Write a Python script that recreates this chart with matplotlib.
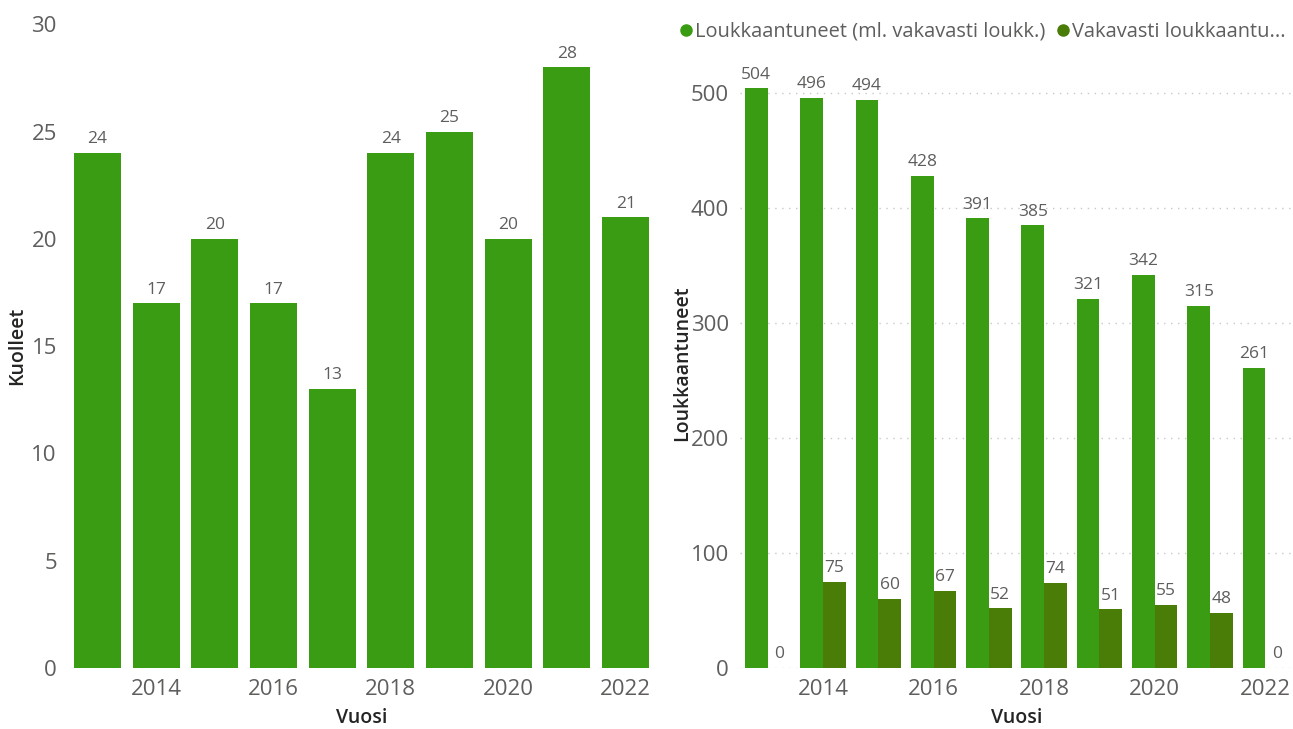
import matplotlib.pyplot as plt
from matplotlib.lines import Line2D
import numpy as np

# Data
vuodet = [2013, 2014, 2015, 2016, 2017, 2018, 2019, 2020, 2021, 2022]
kuolleet = [24, 17, 20, 17, 13, 24, 25, 20, 28, 21]
loukkaantuneet = [504, 496, 494, 428, 391, 385, 321, 342, 315, 261]
vakavasti = [0, 75, 60, 67, 52, 74, 51, 55, 48, 0]
tick_years = [2014, 2016, 2018, 2020, 2022]
legend_labels = ['Loukkaantuneet (ml. vakavasti loukk.)', 'Vakavasti loukkaantu...']

green = '#3A9C12'
dark_green = '#4A7C08'
tick_col = '#605E5C'
title_col = '#252423'

plt.rcParams['font.family'] = ['Open Sans', 'DejaVu Sans']

fig = plt.figure(figsize=(12.93, 7.29), dpi=100)

# Left chart: deaths
ax1 = fig.add_axes([0.0526, 0.0837, 0.454, 0.883])
bars = ax1.bar(vuodet, kuolleet, width=0.8, color=green)
for b, v in zip(bars, kuolleet):
    ax1.annotate(str(v), (b.get_x() + b.get_width() / 2, v), xytext=(0, 4),
                 textcoords='offset points', ha='center', va='bottom',
                 fontsize=12.5, color=tick_col)
ax1.set_xlim(2012.5, 2022.5)
ax1.set_ylim(0, 30)
ax1.set_yticks([0, 5, 10, 15, 20, 25, 30])
ax1.set_xticks(tick_years)
ax1.set_ylabel('Kuolleet', fontsize=14, fontweight='semibold', color=title_col)
ax1.yaxis.set_label_coords(-0.07, 0.5)
ax1.set_xlabel('Vuosi', fontsize=14, fontweight='semibold', color=title_col, labelpad=6)

# Right chart: injured
ax2 = fig.add_axes([0.5723, 0.0837, 0.4277, 0.836])
x = np.array(vuodet)
w = 0.41
b1 = ax2.bar(x - w / 2, loukkaantuneet, width=w, color=green)
b2 = ax2.bar(x + w / 2, vakavasti, width=w, color=dark_green)
for bs, vals in [(b1, loukkaantuneet), (b2, vakavasti)]:
    for b, v in zip(bs, vals):
        ax2.annotate(str(v), (b.get_x() + b.get_width() / 2, v), xytext=(0, 4),
                     textcoords='offset points', ha='center', va='bottom',
                     fontsize=12.5, color=tick_col)
ax2.set_xlim(2012.5, 2022.5)
ax2.set_ylim(0, 530)
ax2.set_yticks([0, 100, 200, 300, 400, 500])
ax2.set_xticks(tick_years)
ax2.grid(axis='y', linestyle=(0, (1, 4)), color='#C8C8C8', linewidth=1)
ax2.set_axisbelow(True)
ax2.set_ylabel('Loukkaantuneet', fontsize=14, fontweight='semibold', color=title_col)
ax2.yaxis.set_label_coords(-0.087, 0.5)
ax2.set_xlabel('Vuosi', fontsize=14, fontweight='semibold', color=title_col, labelpad=6)

handles = [Line2D([], [], marker='o', linestyle='none', markersize=8, color=c)
           for c in (green, dark_green)]
leg = fig.legend(handles, legend_labels, loc='upper left', bbox_to_anchor=(0.512, 0.995),
                 ncol=2, frameon=False, fontsize=14.4, handlelength=0.6,
                 handletextpad=0.15, columnspacing=0.6)
for t in leg.get_texts():
    t.set_color(tick_col)

for ax in (ax1, ax2):
    for s in ax.spines.values():
        s.set_visible(False)
    ax.tick_params(length=0, labelsize=16, labelcolor=tick_col, pad=8)

plt.savefig('out.png', dpi=100)
